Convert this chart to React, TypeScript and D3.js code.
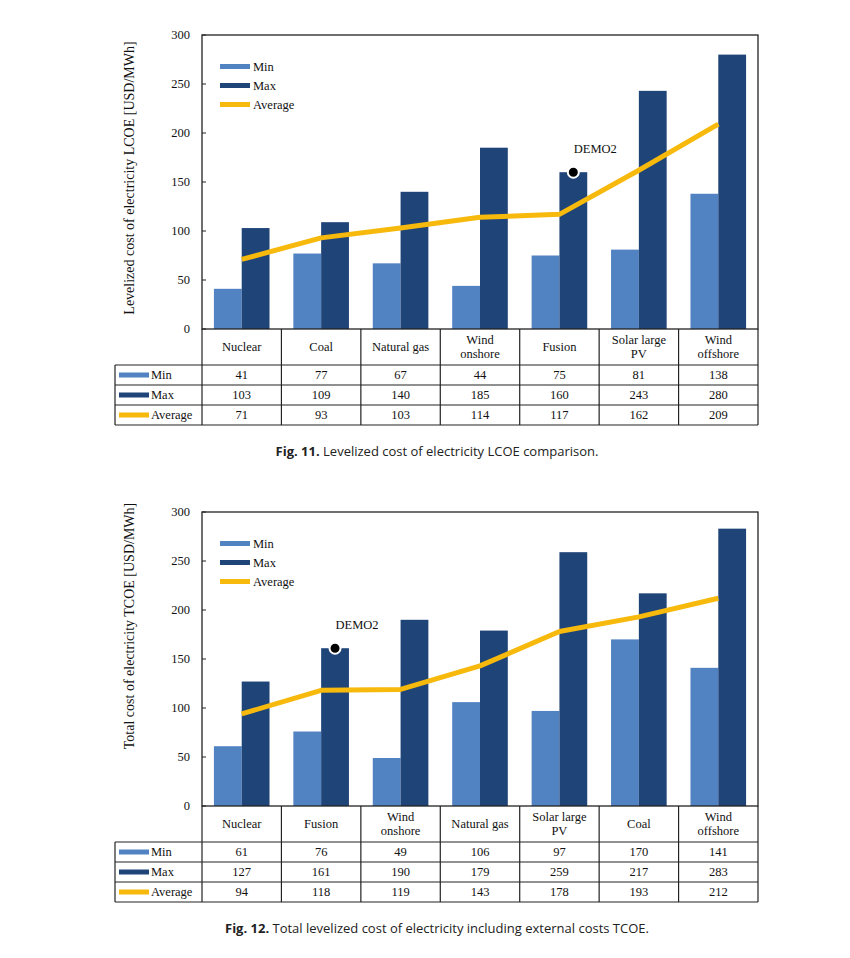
import React from "react";
import * as d3 from "d3";

// ---- Data: Fig. 11 (LCOE) ----
const lcoeCategories = ["Nuclear", "Coal", "Natural gas", "Wind\nonshore", "Fusion", "Solar large\nPV", "Wind\noffshore"];
const lcoeMin = [41, 77, 67, 44, 75, 81, 138];
const lcoeMax = [103, 109, 140, 185, 160, 243, 280];
const lcoeAvg = [71, 93, 103, 114, 117, 162, 209];

// ---- Data: Fig. 12 (TCOE) ----
const tcoeCategories = ["Nuclear", "Fusion", "Wind\nonshore", "Natural gas", "Solar large\nPV", "Coal", "Wind\noffshore"];
const tcoeMin = [61, 76, 49, 106, 97, 170, 141];
const tcoeMax = [127, 161, 190, 179, 259, 217, 283];
const tcoeAvg = [94, 118, 119, 143, 178, 193, 212];

const yTicks = [0, 50, 100, 150, 200, 250, 300];
const seriesNames = ["Min", "Max", "Average"];

const COL_MIN = "#5182c2";
const COL_MAX = "#1f4478";
const COL_AVG = "#f6b90c";
const SERIF = "'Liberation Serif', 'Times New Roman', serif";
const SANS = "'Open Sans', 'DejaVu Sans', sans-serif";

type ChartProps = {
  top: number;
  categories: string[];
  mins: number[];
  maxs: number[];
  avgs: number[];
  demoIndex: number;
  yTitle: string;
  yTitleCenter: number;
  captionBold: string;
  captionText: string;
  captionX: number;
};

function Chart(p: ChartProps) {
  const left = 202;
  const right = 758;
  const plotTop = p.top;
  const plotBottom = p.top + 294;
  const keys = p.categories.map((_, i) => String(i));
  const x = d3.scaleBand<string>().domain(keys).range([left, right]).padding(0);
  const bw = x.bandwidth();
  const inner = d3.scaleBand<string>().domain(["min", "max"]).range([bw * 0.15, bw * 0.85]).padding(0);
  const y = d3.scaleLinear().domain([0, 300]).range([plotBottom, plotTop]);
  const line = d3
    .line<number>()
    .x((_, i) => (x(String(i)) as number) + bw / 2)
    .y((d) => y(d))
    .curve(d3.curveLinear);

  const headerBottom = plotBottom + 36;
  const rowH = 20;
  const tableLeft = 115;
  const rows = [p.mins, p.maxs, p.avgs];
  const rowColors = [COL_MIN, COL_MAX, COL_AVG];

  const demoX = (x(String(p.demoIndex)) as number) + (inner("max") as number) + inner.bandwidth() / 2;
  const demoY = y(p.maxs[p.demoIndex]);

  return (
    <g>
      {/* bars */}
      {p.categories.map((_, i) => {
        const x0 = x(String(i)) as number;
        return (
          <g key={"b" + i}>
            <rect x={x0 + (inner("min") as number)} y={y(p.mins[i])} width={inner.bandwidth()} height={plotBottom - y(p.mins[i])} fill={COL_MIN} />
            <rect x={x0 + (inner("max") as number)} y={y(p.maxs[i])} width={inner.bandwidth()} height={plotBottom - y(p.maxs[i])} fill={COL_MAX} />
          </g>
        );
      })}
      {/* average line */}
      <path d={line(p.avgs) || ""} fill="none" stroke={COL_AVG} strokeWidth={5} strokeLinejoin="round" />
      {/* DEMO2 */}
      <circle cx={demoX} cy={demoY} r={5.5} fill="#000" stroke="#fff" strokeWidth={2} />
      <text x={demoX + 22} y={demoY - 19} fontFamily={SERIF} fontSize={12.5} textAnchor="middle" fill="#111">DEMO2</text>
      {/* frame */}
      <rect x={left} y={plotTop} width={right - left} height={plotBottom - plotTop} fill="none" stroke="#222" strokeWidth={1.3} />
      {/* y ticks */}
      {yTicks.map((t) => (
        <g key={"t" + t}>
          <line x1={left} x2={left + 4} y1={y(t)} y2={y(t)} stroke="#222" strokeWidth={1} />
          <text x={190} y={y(t)} dy="0.35em" textAnchor="end" fontFamily={SERIF} fontSize={12.5} fill="#111">{t}</text>
        </g>
      ))}
      {/* y title */}
      <text
        transform={`translate(134,${p.yTitleCenter}) rotate(-90)`}
        textAnchor="middle"
        fontFamily={SERIF}
        fontSize={14}
        fill="#111"
      >
        {p.yTitle}
      </text>
      {/* legend */}
      {seriesNames.map((s, i) => (
        <g key={"l" + s}>
          <rect x={220} y={plotTop + 29 + i * 19} width={30} height={5} fill={rowColors[i]} />
          <text x={253} y={plotTop + 31.5 + i * 19} dy="0.35em" fontFamily={SERIF} fontSize={12.5} fill="#111">{s}</text>
        </g>
      ))}
      {/* table header (categories) */}
      {p.categories.map((c, i) => {
        const cx = (x(String(i)) as number) + bw / 2;
        const lines = c.split("\n");
        const mid = plotBottom + 18;
        return (
          <text key={"c" + i} x={cx} textAnchor="middle" fontFamily={SERIF} fontSize={12.5} fill="#111">
            {lines.map((ln, j) => (
              <tspan key={j} x={cx} y={mid + (j - (lines.length - 1) / 2) * 14} dy="0.35em">{ln}</tspan>
            ))}
          </text>
        );
      })}
      {/* table grid */}
      {d3.range(p.categories.length + 1).map((i) => {
        const xx = i === p.categories.length ? right : (x(String(i)) as number);
        return <line key={"v" + i} x1={xx} x2={xx} y1={plotBottom} y2={headerBottom + rowH * 3} stroke="#222" strokeWidth={1.2} />;
      })}
      <line x1={tableLeft} x2={tableLeft} y1={headerBottom} y2={headerBottom + rowH * 3} stroke="#222" strokeWidth={1.2} />
      {d3.range(4).map((r) => (
        <line key={"h" + r} x1={tableLeft} x2={right} y1={headerBottom + r * rowH} y2={headerBottom + r * rowH} stroke="#222" strokeWidth={1.2} />
      ))}
      {/* rows */}
      {rows.map((vals, r) => {
        const cy = headerBottom + r * rowH + rowH / 2;
        return (
          <g key={"r" + r}>
            <rect x={119} y={cy - 2.5} width={30} height={5} fill={rowColors[r]} />
            <text x={151} y={cy} dy="0.35em" fontFamily={SERIF} fontSize={12.5} fill="#111">{seriesNames[r]}</text>
            {vals.map((v, i) => (
              <text key={i} x={(x(String(i)) as number) + bw / 2} y={cy} dy="0.35em" textAnchor="middle" fontFamily={SERIF} fontSize={12.5} fill="#111">{v}</text>
            ))}
          </g>
        );
      })}
      {/* caption */}
      <text x={p.captionX} y={plotBottom + 127} textAnchor="middle" fontFamily={SANS} fontSize={13} fill="#222">
        <tspan fontWeight="bold">{p.captionBold}</tspan>
        <tspan>{" " + p.captionText}</tspan>
      </text>
    </g>
  );
}

export default function App() {
  return (
    <svg width={850} height={958} style={{ position: "absolute", left: 0, top: 0, background: "#fff" }}>
      <rect width={850} height={958} fill="#fff" />
      <Chart
        top={35}
        categories={lcoeCategories}
        mins={lcoeMin}
        maxs={lcoeMax}
        avgs={lcoeAvg}
        demoIndex={4}
        yTitle="Levelized cost of electricity LCOE [USD/MWh]"
        yTitleCenter={178}
        captionBold="Fig. 11."
        captionText="Levelized cost of electricity LCOE comparison."
        captionX={437}
      />
      <Chart
        top={512}
        categories={tcoeCategories}
        mins={tcoeMin}
        maxs={tcoeMax}
        avgs={tcoeAvg}
        demoIndex={1}
        yTitle="Total cost of electricity TCOE [USD/MWh]"
        yTitleCenter={626}
        captionBold="Fig. 12."
        captionText="Total levelized cost of electricity including external costs TCOE."
        captionX={437}
      />
    </svg>
  );
}
